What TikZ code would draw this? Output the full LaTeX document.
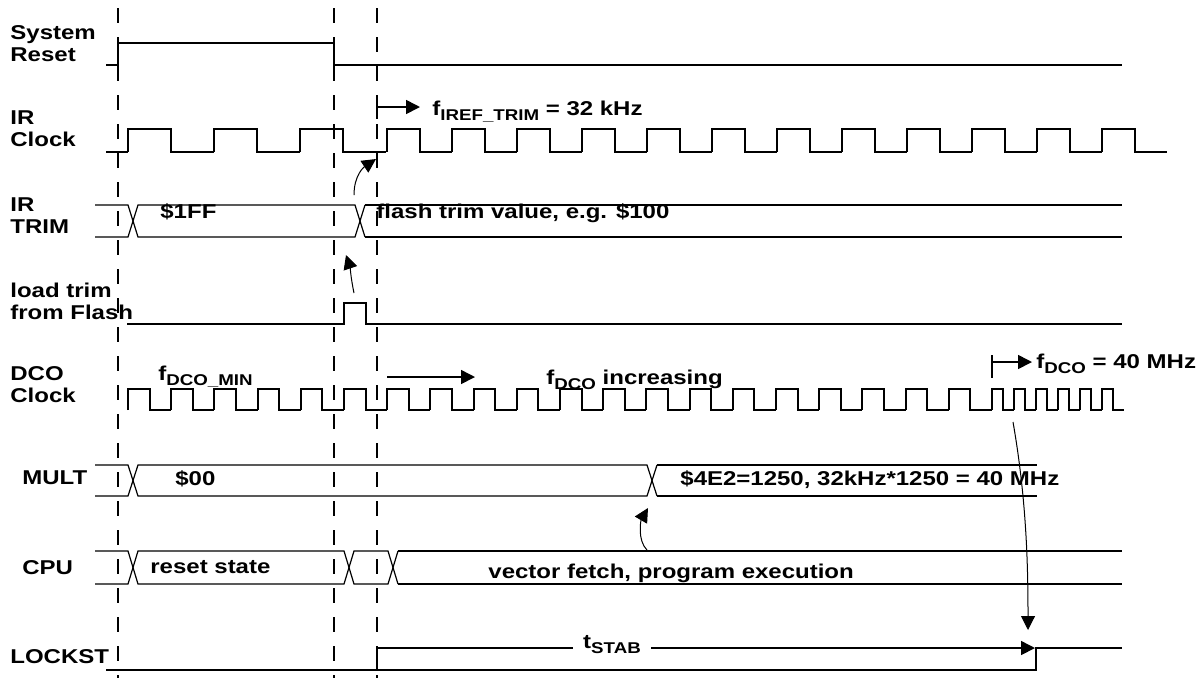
\documentclass[tikz,border=0pt]{standalone}
\usepackage{fontspec}
\setmainfont{Liberation Sans}[FakeStretch=1.2]
\usepackage{tikz}
\usetikzlibrary{arrows.meta}
\newcommand{\lowsub}[1]{\raisebox{-2.5pt}{\fontsize{7.8}{8}\selectfont #1}}
\tikzset{sig/.style={line width=1pt, line join=miter}, oldbus/.style={line width=0.6pt}, newbus/.style={line width=1pt}, guide/.style={line width=1pt, dash pattern=on 7.5pt off 7pt}, sigtext/.style={font=\fontsize{10}{11}\selectfont\bfseries, align=left, anchor=west, inner sep=0pt}, valtext/.style={font=\fontsize{10}{11}\selectfont\bfseries, anchor=base west, inner sep=0pt}, arr/.style={-{Triangle[length=7pt,width=7pt]}, line width=0.8pt}, curvarr/.style={-{Triangle[length=7pt,width=7pt]}, line width=0.5pt}}

\begin{document}
\begin{tikzpicture}[x=0.5pt,y=-0.5pt]
\useasboundingbox (0,0) rectangle (1203,682);
\foreach \gx in {118,334,377} {\draw[guide] (\gx,8) -- (\gx,678);}
\node[sigtext] (lreset) at (10,44) {System\\Reset};
\node[sigtext] (lirclk) at (10,129) {IR\\Clock};
\node[sigtext] (lirtrim) at (10,216) {IR\\TRIM};
\node[sigtext] (lload) at (10,301) {load trim\\from Flash};
\node[sigtext] (ldco) at (10,385) {DCO\\Clock};
\node[sigtext] (lmult) at (22,478) {MULT};
\node[sigtext] (lcpu) at (22,568) {CPU};
\node[sigtext] (llock) at (10,657) {LOCKST};
% system reset
\draw[sig] (106,65) -- (118,65) -- (118,43) -- (334,43) -- (334,65) -- (1122,65);
% IR clock
\draw[sig] (106,152) -- (128,152);
\foreach \k [evaluate=\k as \xa using 128+86*\k] in {0,1,2} {\draw[sig] (\xa,152) -- (\xa,129) -- ++(43,0) -- ++(0,23) -- ++(43,0);}
\foreach \k [evaluate=\k as \xa using 387+65*\k] in {0,...,11} {\draw[sig] (\xa,152) -- (\xa,129) -- ++(32.5,0) -- ++(0,23) -- ++(32.5,0);}
\coordinate (irstart) at (377,107);
\coordinate (irend) at (420,107);
\draw[sig] (irstart) ++(0,-12) -- ++(0,24);
\draw[arr] (irstart) -- (irend);
\node[valtext] (firef) at (432,115) {f\lowsub{IREF\_TRIM} = 32 kHz};
% IR trim
\draw[oldbus] (95,205) -- (128,205) -- (138,237) -- (355,237) -- (365,205);
\draw[oldbus] (95,237) -- (128,237) -- (138,205) -- (355,205) -- (365,237);
\draw[newbus] (365,205) -- (1122,205);
\draw[newbus] (365,237) -- (1122,237);
\node[valtext] (vtrimold) at (160,218) {\$1FF};
\node[valtext] (vtrimnew) at (376,218) {flash trim value, e.g. \$100};
\coordinate (trimx) at (354,195);
\coordinate (clkedge) at (376,159);
\draw[curvarr] (trimx) .. controls +(0,-20) and +(-12,8) .. (clkedge);
% load trim
\draw[sig] (127,324) -- (344,324) -- (344,303) -- (366,303) -- (366,324) -- (1122,324);
\coordinate (loadpulse) at (354,293);
\coordinate (trimedge) at (346,255);
\draw[curvarr] (loadpulse) .. controls +(-3,-14) and +(4,12) .. (trimedge);
% DCO clock
\foreach \k [evaluate=\k as \xa using 128+43.2*\k] in {0,...,19} {\draw[sig] (\xa,410) -- (\xa,389) -- ++(21.6,0) -- ++(0,21) -- ++(21.6,0);}
\foreach \k [evaluate=\k as \xa using 992+22*\k] in {0,...,5} {\draw[sig] (\xa,410) -- (\xa,389) -- ++(11,0) -- ++(0,21) -- ++(11,0);}
\node[valtext] (fdcomin) at (158,380) {f\lowsub{DCO\_MIN}};
\coordinate (incstart) at (387,377);
\coordinate (incend) at (475,377);
\draw[arr] (incstart) -- (incend);
\node[valtext] (fdcoinc) at (546,384) {f\lowsub{DCO} increasing};
\coordinate (lockbar) at (992,362);
\coordinate (lockarr) at (1032,362);
\draw[sig] (lockbar) ++(0,-7) -- ++(0,23);
\draw[arr] (lockbar) -- (lockarr);
\node[valtext] (fdcofin) at (1036,368) {f\lowsub{DCO} = 40 MHz};
% MULT
\draw[oldbus] (95,465) -- (128,465) -- (138,496) -- (647,496) -- (657,465);
\draw[oldbus] (95,496) -- (128,496) -- (138,465) -- (647,465) -- (657,496);
\draw[newbus] (657,465) -- (1037,465);
\draw[newbus] (657,496) -- (1037,496);
\node[valtext] (vmultold) at (175,485) {\$00};
\node[valtext] (vmultnew) at (680,485) {\$4E2=1250, 32kHz*1250 = 40 MHz};
% CPU
\draw[oldbus] (95,551) -- (128,551) -- (138,584) -- (344,584) -- (354,551) -- (388,551) -- (398,584);
\draw[oldbus] (95,584) -- (128,584) -- (138,551) -- (344,551) -- (354,584) -- (388,584) -- (398,551);
\draw[newbus] (398,551) -- (1122,551);
\draw[newbus] (398,584) -- (1122,584);
\node[valtext] (vcpuold) at (150,573) {reset state};
\node[valtext] (vcpunew) at (488,578) {vector fetch, program execution};
\coordinate (cpuline) at (647,550);
\coordinate (multedge) at (648,508);
\draw[curvarr] (cpuline) .. controls +(-10,-10) and +(-7,12) .. (multedge);
% LOCKST
\draw[sig] (106,670) -- (1036,670) -- (1036,648) -- (1122,648);
\coordinate (stabstart) at (377,648);
\coordinate (stabend) at (1035,648);
\node[valtext, anchor=base, inner xsep=5pt] (tstab) at (612,648) {t\lowsub{STAB}};
\draw[sig] (stabstart) -- ++(0,22);
\draw[sig] (stabstart) -- (tstab.west |- stabstart);
\draw[arr] (tstab.east |- stabend) -- (stabend);
\coordinate (dcofast) at (1013,422);
\coordinate (lockedge) at (1028,630);
\draw[curvarr] (dcofast) .. controls +(14,80) and +(0,-60) .. (lockedge);
\end{tikzpicture}
\end{document}
